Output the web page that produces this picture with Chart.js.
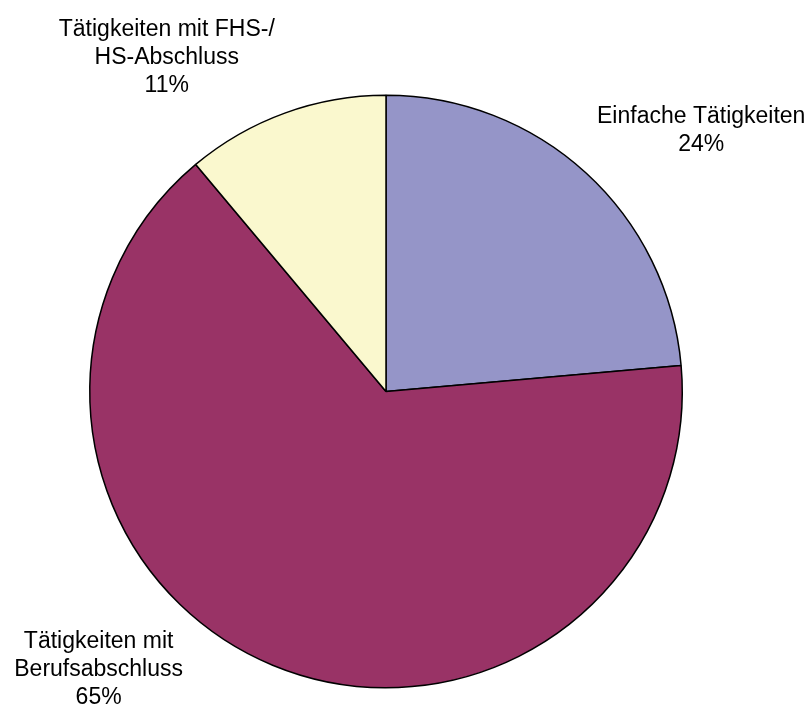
<!DOCTYPE html>
<html lang="de">
<head>
<meta charset="utf-8">
<title>Tätigkeiten</title>
<script src="https://cdn.jsdelivr.net/npm/chart.js@4/dist/chart.umd.min.js"></script>
<style>
    html, body { margin: 0; padding: 0; background: #fff; }
    canvas { display: block; }
</style>
</head>
<body>
<canvas id="pieChart" width="811" height="706"></canvas>
<script>
const categories = [
    ['Einfache Tätigkeiten'],
    ['Tätigkeiten mit', 'Berufsabschluss'],
    ['Tätigkeiten mit FHS-/', 'HS-Abschluss'],
];
// labels show them rounded
const shares = [23.6, 65.3, 11.1];
const sliceColors = ['#9595C8', '#993366', '#FAF8CE'];

// label block centres, relative to pie centre, in units of the radius
const labelOffsets = [[1.064, -0.88], [-0.97, 0.9375], [-0.74, -1.128]];

const outsideLabels = {
    id: 'outsideLabels',
    afterDatasetsDraw(chart) {
        const { ctx } = chart;
        const meta = chart.getDatasetMeta(0);
        const total = shares.reduce((a, b) => a + b, 0);
        ctx.save();
        ctx.font = '23px "Liberation Sans", Arial, sans-serif';
        ctx.fillStyle = '#000';
        ctx.textAlign = 'center';
        ctx.textBaseline = 'middle';
        const lineHeight = 28;
        meta.data.forEach((arc, i) => {
            const lines = categories[i].concat([Math.round(shares[i] / total * 100) + '%']);
            const cx = arc.x + labelOffsets[i][0] * arc.outerRadius;
            const cy = arc.y + labelOffsets[i][1] * arc.outerRadius;
            const top = cy - (lines.length - 1) * lineHeight / 2;
            lines.forEach((line, j) => ctx.fillText(line, cx, top + j * lineHeight));
        });
        ctx.restore();
    },
};

new Chart(document.getElementById('pieChart'), {
    type: 'pie',
    data: {
        labels: categories.map(c => c.join(' ')),
        datasets: [{
            data: shares,
            backgroundColor: sliceColors,
            borderColor: '#000',
            borderWidth: 1.5,
        }],
    },
    options: {
        responsive: false,
        animation: false,
        layout: { padding: { left: 89, right: 128, top: 94, bottom: 17 } },
        plugins: {
            legend: { display: false },
            tooltip: { enabled: false },
        },
    },
    plugins: [outsideLabels],
});
</script>
</body>
</html>
